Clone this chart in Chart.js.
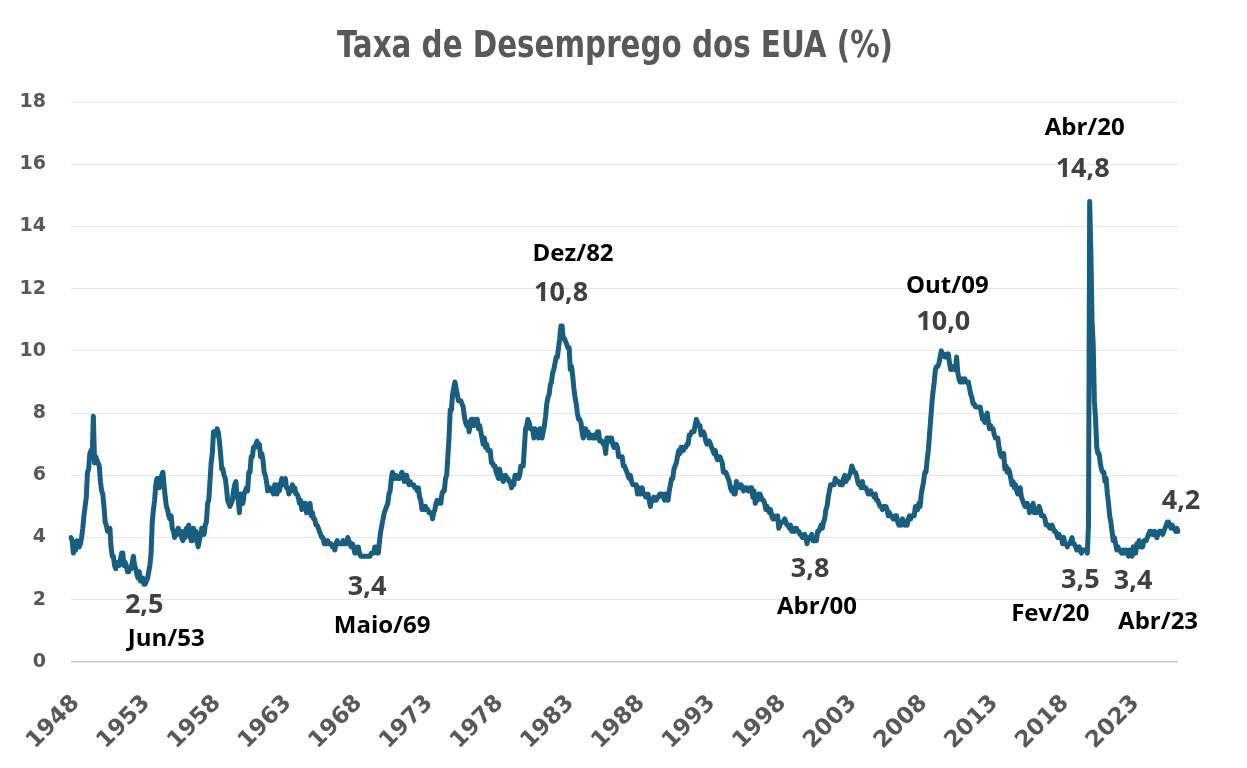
<!DOCTYPE html>
<html>
<head>
<meta charset="utf-8">
<script src="https://cdn.jsdelivr.net/npm/chart.js@4.4.1/dist/chart.umd.min.js"></script>
<style>
  html, body { margin: 0; padding: 0; background: #fff; }
  #divForCanvas { width: 1247px; height: 768px; }
</style>
</head>
<body>
<div id="divForCanvas"><canvas id="myChart" width="1247" height="768"></canvas></div>
<script>
// série mensal, começa em março de 1948
const startYear = 1948;
const startMonth = 3;

const unemployment = [
  4.0,3.9,3.5,3.6,3.6,3.9,3.8,3.7,3.8,4.0,
  4.3,4.7,5.0,5.3,6.1,6.2,6.7,6.8,6.6,7.9,6.4,6.6,
  6.5,6.4,6.3,5.8,5.5,5.4,5.0,4.5,4.4,4.2,4.2,4.3,
  3.7,3.4,3.4,3.1,3.0,3.2,3.1,3.1,3.3,3.5,3.5,3.1,
  3.2,3.1,2.9,2.9,3.0,3.0,3.2,3.4,3.1,3.0,2.8,2.7,
  2.9,2.6,2.6,2.7,2.5,2.5,2.6,2.7,2.9,3.1,3.5,4.5,
  4.9,5.2,5.7,5.9,5.9,5.6,5.8,6.0,6.1,5.7,5.3,5.0,
  4.9,4.7,4.6,4.7,4.3,4.2,4.0,4.2,4.1,4.3,4.2,4.2,
  4.0,3.9,4.2,4.0,4.3,4.3,4.4,4.1,3.9,3.9,4.3,4.2,
  4.2,3.9,3.7,3.9,4.1,4.3,4.2,4.1,4.4,4.5,5.1,5.2,
  5.8,6.4,6.7,7.4,7.4,7.3,7.5,7.4,7.1,6.7,6.2,6.2,
  6.0,5.9,5.6,5.2,5.1,5.0,5.1,5.2,5.5,5.7,5.8,5.3,
  5.2,4.8,5.4,5.2,5.1,5.4,5.5,5.6,5.5,6.1,6.1,6.6,
  6.6,6.9,6.9,7.0,7.1,6.9,7.0,6.6,6.7,6.5,6.1,6.0,
  5.8,5.5,5.6,5.6,5.5,5.5,5.4,5.7,5.6,5.4,5.7,5.5,
  5.7,5.9,5.7,5.7,5.9,5.6,5.6,5.4,5.5,5.5,5.7,5.5,
  5.6,5.4,5.4,5.3,5.1,5.2,4.9,5.0,5.1,5.1,4.8,5.0,
  4.9,5.1,4.7,4.8,4.6,4.6,4.4,4.4,4.3,4.2,4.1,4.0,
  4.0,3.8,3.8,3.8,3.9,3.8,3.8,3.8,3.7,3.7,3.6,3.8,
  3.9,3.8,3.8,3.8,3.8,3.9,3.8,3.8,3.8,4.0,3.9,3.8,
  3.7,3.8,3.7,3.5,3.5,3.7,3.7,3.5,3.4,3.4,3.4,3.4,
  3.4,3.4,3.4,3.4,3.4,3.5,3.5,3.5,3.7,3.7,3.5,3.5,
  3.9,4.2,4.4,4.6,4.8,4.9,5.0,5.1,5.4,5.5,5.9,6.1,
  5.9,5.9,6.0,5.9,5.9,5.9,6.0,6.1,6.0,5.8,6.0,6.0,
  5.8,5.7,5.8,5.7,5.7,5.7,5.6,5.6,5.5,5.6,5.3,5.2,
  4.9,5.0,4.9,5.0,4.9,4.9,4.8,4.8,4.8,4.6,4.8,4.9,
  5.1,5.2,5.1,5.1,5.1,5.4,5.5,5.5,5.9,6.0,6.6,7.2,
  8.1,8.1,8.6,8.8,9.0,8.8,8.6,8.4,8.4,8.4,8.3,8.2,
  7.9,7.7,7.6,7.7,7.4,7.6,7.8,7.8,7.6,7.7,7.8,7.8,
  7.5,7.6,7.4,7.2,7.0,7.2,6.9,7.0,6.8,6.8,6.8,6.4,
  6.4,6.3,6.3,6.1,6.0,5.9,6.2,5.9,6.0,5.8,5.9,6.0,
  5.9,5.9,5.8,5.8,5.6,5.7,5.7,6.0,5.9,6.0,5.9,6.0,
  6.3,6.3,6.3,6.9,7.5,7.6,7.8,7.7,7.5,7.5,7.5,7.2,
  7.5,7.4,7.4,7.2,7.5,7.5,7.2,7.4,7.6,7.9,8.3,8.5,
  8.6,8.9,9.0,9.3,9.4,9.6,9.8,9.8,10.1,10.4,10.8,10.8,
  10.4,10.4,10.3,10.2,10.1,10.1,9.4,9.5,9.2,8.8,8.5,8.3,
  8.0,7.8,7.8,7.7,7.4,7.2,7.5,7.5,7.3,7.4,7.2,7.3,
  7.3,7.2,7.2,7.3,7.2,7.4,7.4,7.1,7.1,7.1,7.0,7.0,
  6.7,7.2,7.2,7.1,7.2,7.2,7.0,6.9,7.0,7.0,6.9,6.6,
  6.6,6.6,6.6,6.3,6.3,6.2,6.1,6.0,5.9,6.0,5.8,5.7,
  5.7,5.7,5.7,5.4,5.6,5.4,5.4,5.6,5.4,5.4,5.3,5.3,
  5.4,5.2,5.0,5.2,5.2,5.3,5.2,5.2,5.3,5.3,5.4,5.4,
  5.4,5.3,5.2,5.4,5.4,5.2,5.5,5.7,5.9,5.9,6.2,6.3,
  6.4,6.6,6.8,6.7,6.9,6.9,6.8,6.9,6.9,7.0,7.0,7.3,
  7.3,7.4,7.4,7.4,7.6,7.8,7.7,7.6,7.6,7.3,7.4,7.4,
  7.3,7.1,7.0,7.1,7.1,7.0,6.9,6.8,6.7,6.8,6.6,6.5,
  6.6,6.6,6.5,6.4,6.1,6.1,6.1,6.0,5.9,5.8,5.6,5.5,
  5.6,5.4,5.4,5.8,5.6,5.6,5.7,5.7,5.6,5.5,5.6,5.6,
  5.6,5.5,5.5,5.6,5.6,5.3,5.5,5.1,5.2,5.2,5.4,5.4,
  5.3,5.2,5.2,5.1,4.9,5.0,4.9,4.8,4.9,4.7,4.6,4.7,
  4.6,4.6,4.7,4.3,4.4,4.5,4.5,4.5,4.6,4.5,4.4,4.4,
  4.3,4.4,4.2,4.3,4.2,4.3,4.3,4.2,4.2,4.1,4.1,4.0,
  4.0,4.1,4.0,3.8,4.0,4.0,4.0,4.1,3.9,3.9,3.9,3.9,
  4.2,4.2,4.3,4.4,4.3,4.5,4.6,4.9,5.0,5.3,5.5,5.7,
  5.7,5.7,5.7,5.9,5.8,5.8,5.8,5.7,5.7,5.7,5.9,6.0,
  5.8,5.9,5.9,6.0,6.1,6.3,6.2,6.1,6.1,6.0,5.8,5.7,
  5.7,5.6,5.8,5.6,5.6,5.6,5.5,5.4,5.4,5.5,5.4,5.4,
  5.3,5.4,5.2,5.2,5.1,5.0,5.0,4.9,5.0,5.0,5.0,4.9,
  4.7,4.8,4.7,4.7,4.6,4.6,4.7,4.7,4.5,4.4,4.5,4.4,
  4.6,4.5,4.4,4.5,4.4,4.6,4.7,4.6,4.7,4.7,4.7,5.0,
  5.0,4.9,5.1,5.0,5.4,5.6,5.8,6.1,6.1,6.5,6.8,7.3,
  7.8,8.3,8.7,9.0,9.4,9.5,9.5,9.6,9.8,10.0,9.9,9.9,
  9.8,9.8,9.9,9.9,9.6,9.4,9.4,9.5,9.5,9.4,9.8,9.3,
  9.1,9.0,9.0,9.1,9.0,9.1,9.0,9.0,9.0,8.8,8.6,8.5,
  8.3,8.3,8.2,8.2,8.2,8.2,8.2,8.0,7.8,7.8,7.7,7.9,
  8.0,7.7,7.5,7.6,7.5,7.5,7.3,7.2,7.2,7.2,6.9,6.7,
  6.6,6.7,6.7,6.2,6.3,6.1,6.2,6.1,5.9,5.7,5.8,5.6,
  5.7,5.5,5.4,5.4,5.6,5.3,5.2,5.1,5.0,5.0,5.1,5.0,
  4.8,4.9,5.0,5.1,4.8,4.9,4.8,4.9,5.0,4.9,4.7,4.7,
  4.7,4.6,4.4,4.4,4.4,4.3,4.3,4.4,4.3,4.2,4.2,4.1,
  4.0,4.1,4.0,4.0,3.8,4.0,3.8,3.8,3.7,3.8,3.8,3.9,
  4.0,3.8,3.8,3.7,3.6,3.6,3.7,3.6,3.5,3.6,3.6,3.6,
  3.6,3.5,4.4,14.8,13.2,11.0,10.2,8.4,7.8,6.9,6.7,6.7,
  6.4,6.2,6.1,6.1,5.8,5.9,5.4,5.1,4.7,4.5,4.2,3.9,
  4.0,3.8,3.6,3.7,3.6,3.6,3.5,3.6,3.5,3.6,3.6,3.5,
  3.4,3.6,3.5,3.4,3.7,3.6,3.5,3.8,3.8,3.9,3.7,3.7,
  3.7,3.9,3.9,3.9,4.0,4.1,4.2,4.2,4.1,4.1,4.2,4.1,
  4.0,4.1,4.2,4.2,4.2,4.1,4.2,4.3,4.4,4.5,4.5,4.4,
  4.3,4.4,4.3,4.3,4.2,4.3,4.2
];

// rótulos do eixo Y
const yTicks = [0, 2, 4, 6, 8, 10, 12, 14, 16, 18];

const chartTitle = 'Taxa de Desemprego dos EUA (%)';

// destaques: índice do mês na série e o texto da data
const noteIndex = [63, 254, 417, 625, 739, 863, 865, 901, 940];
const noteDate  = ['Jun/53', 'Maio/69', 'Dez/82', 'Abr/00', 'Out/09', 'Fev/20', 'Abr/20', 'Abr/23', ''];

// deslocamentos (px) do valor e da data em relação ao ponto
const noteOffsets = [
    { vx: -1, vy: 21, dx: 21, dy: 55 },
    { vx: -3, vy: 31, dx: 12, dy: 70 },
    { vx: -1, vy: -33, dx: 11, dy: -72 },
    { vx: 3, vy: 26, dx: 10, dy: 63 },
    { vx: 2, vy: -29, dx: 6, dy: -65 },
    { vx: -7, vy: 27, dx: -37, dy: 61 },
    { vx: -7, vy: -32, dx: -5, dy: -73 },
    { vx: 1, vy: 25, dx: 26, dy: 66 },
    { vx: 3, vy: -30, dx: 0, dy: 0 },
];

const monthLabels = unemployment.map((v, i) => {
    const m = startMonth - 1 + i;
    const y = startYear + Math.floor(m / 12);
    return `${y}-${String(m % 12 + 1).padStart(2, '0')}`;
});

const fmt = (v) => v.toFixed(1).replace('.', ',');

// título desenhado à mão para poder usar fonte condensada
const titlePlugin = {
    id: 'myTitle',
    afterDraw(chart) {
        const ctx = chart.ctx;
        ctx.save();
        ctx.font = 'bold 38px "DejaVu Sans", sans-serif';
        if ('fontStretch' in ctx) ctx.fontStretch = 'condensed';
        ctx.fillStyle = '#595959';
        ctx.textAlign = 'center';
        ctx.textBaseline = 'middle';
        const w = ctx.measureText(chartTitle).width;
        const target = 556;
        ctx.translate(615, 47);
        if (w > target) ctx.scale(target / w, 1);
        ctx.fillText(chartTitle, 0, 0);
        ctx.restore();
    }
};

const notesPlugin = {
    id: 'notes',
    afterDatasetsDraw(chart) {
        const { ctx, scales } = chart;
        ctx.save();
        ctx.textAlign = 'center';
        ctx.textBaseline = 'middle';
        noteIndex.forEach((idx, i) => {
            const px = scales.x.getPixelForValue(idx);
            const py = scales.y.getPixelForValue(unemployment[idx]);
            const o = noteOffsets[i];
            ctx.font = 'bold 27px "Open Sans", "Noto Sans", sans-serif';
            ctx.fillStyle = '#404040';
            ctx.fillText(fmt(unemployment[idx]), px + o.vx, py + o.vy);
            if (noteDate[i]) {
                ctx.font = 'bold 24px "Open Sans", "Noto Sans", sans-serif';
                ctx.fillStyle = '#000000';
                ctx.fillText(noteDate[i], px + o.dx, py + o.dy);
            }
        });
        ctx.restore();
    }
};

const data = {
    labels: monthLabels,
    datasets: [{
        label: 'Taxa de desemprego',
        data: unemployment,
        borderColor: '#175e80',
        backgroundColor: '#175e80',
        borderWidth: 5,
        pointRadius: 0,
        tension: 0,
        borderJoinStyle: 'round',
        borderCapStyle: 'round',
    }]
};

const config = {
    type: 'line',
    data,
    options: {
        responsive: false,
        animation: false,
        devicePixelRatio: 1,
        layout: {
            padding: { left: 16, right: 69, top: 102, bottom: 2 }
        },
        plugins: {
            legend: { display: false },
            tooltip: { enabled: false },
            title: { display: false }
        },
        scales: {
            x: {
                type: 'category',
                offset: false,
                grid: { display: false },
                border: { display: false },
                afterFit: (axis) => {
                    axis.paddingLeft = 0;
                    axis.paddingRight = 0;
                    axis.height = 104;
                },
                ticks: {
                    autoSkip: false,
                    minRotation: 45,
                    maxRotation: 45,
                    padding: 20,
                    labelOffset: 5,
                    color: '#595959',
                    font: { family: '"DejaVu Sans", sans-serif', size: 23, weight: 'bold' },
                    callback: function (val, i) {
                        return i % 60 === 0 ? this.getLabelForValue(val).slice(0, 4) : '';
                    }
                }
            },
            y: {
                min: 0,
                max: 18,
                afterBuildTicks: (axis) => { axis.ticks = yTicks.map(v => ({ value: v })); },
                afterFit: (axis) => { axis.width = 55; },
                grid: {
                    drawTicks: false,
                    color: (c) => c.tick && c.tick.value === 0 ? '#c8c8c8' : '#e6e6e6',
                    lineWidth: (c) => c.tick && c.tick.value === 0 ? 1.5 : 1,
                },
                border: { display: false },
                ticks: {
                    padding: 25,
                    color: '#595959',
                    font: { family: '"DejaVu Sans", sans-serif', size: 19, weight: 'bold' }
                }
            }
        }
    },
    plugins: [notesPlugin, titlePlugin]
};

const myChart = new Chart(document.getElementById('myChart'), config);
</script>
</body>
</html>
